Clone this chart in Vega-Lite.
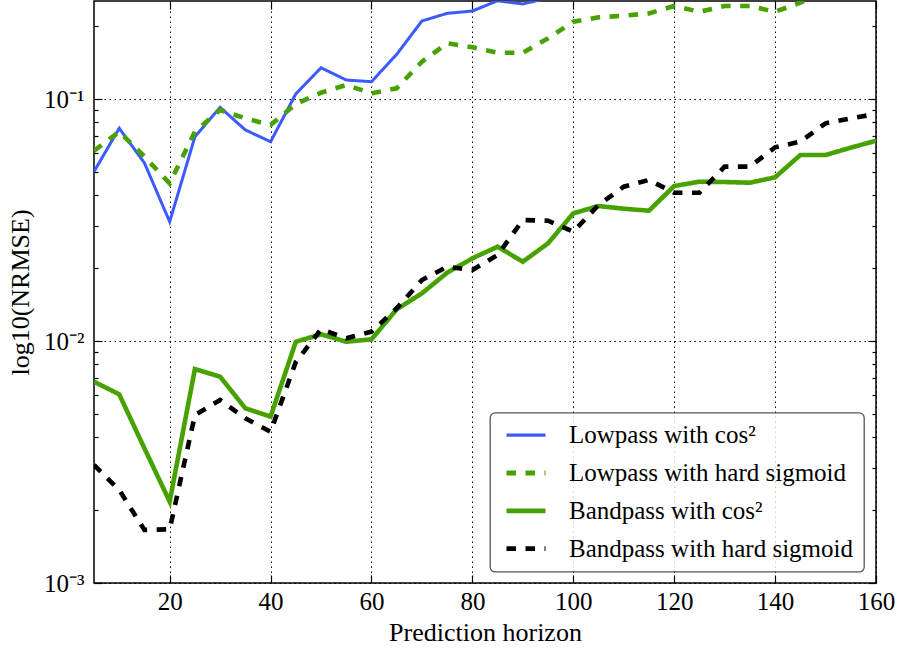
{
  "$schema": "https://vega.github.io/schema/vega-lite/v6.json",
  "width": 782,
  "height": 582,
  "autosize": {"type": "none"},
  "padding": {"left": 94, "top": 1, "right": 22, "bottom": 67},
  "background": "white",
  "datasets": {
    "rows": [
      {"horizon": 5, "series": "Lowpass with cos²", "nrmse": 0.0501},
      {"horizon": 10, "series": "Lowpass with cos²", "nrmse": 0.0757},
      {"horizon": 15, "series": "Lowpass with cos²", "nrmse": 0.0544},
      {"horizon": 20, "series": "Lowpass with cos²", "nrmse": 0.0311},
      {"horizon": 25, "series": "Lowpass with cos²", "nrmse": 0.0698},
      {"horizon": 30, "series": "Lowpass with cos²", "nrmse": 0.0924},
      {"horizon": 35, "series": "Lowpass with cos²", "nrmse": 0.0745},
      {"horizon": 40, "series": "Lowpass with cos²", "nrmse": 0.0666},
      {"horizon": 45, "series": "Lowpass with cos²", "nrmse": 0.105},
      {"horizon": 50, "series": "Lowpass with cos²", "nrmse": 0.1346},
      {"horizon": 55, "series": "Lowpass with cos²", "nrmse": 0.1198},
      {"horizon": 60, "series": "Lowpass with cos²", "nrmse": 0.1179},
      {"horizon": 65, "series": "Lowpass with cos²", "nrmse": 0.153},
      {"horizon": 70, "series": "Lowpass with cos²", "nrmse": 0.2101},
      {"horizon": 75, "series": "Lowpass with cos²", "nrmse": 0.2259},
      {"horizon": 80, "series": "Lowpass with cos²", "nrmse": 0.231},
      {"horizon": 85, "series": "Lowpass with cos²", "nrmse": 0.2547},
      {"horizon": 90, "series": "Lowpass with cos²", "nrmse": 0.2469},
      {"horizon": 95, "series": "Lowpass with cos²", "nrmse": 0.262},
      {"horizon": 100, "series": "Lowpass with cos²", "nrmse": 0.29},
      {"horizon": 5, "series": "Lowpass with hard sigmoid", "nrmse": 0.0611},
      {"horizon": 10, "series": "Lowpass with hard sigmoid", "nrmse": 0.0733},
      {"horizon": 15, "series": "Lowpass with hard sigmoid", "nrmse": 0.0578},
      {"horizon": 20, "series": "Lowpass with hard sigmoid", "nrmse": 0.0448},
      {"horizon": 25, "series": "Lowpass with hard sigmoid", "nrmse": 0.0733},
      {"horizon": 30, "series": "Lowpass with hard sigmoid", "nrmse": 0.0901},
      {"horizon": 35, "series": "Lowpass with hard sigmoid", "nrmse": 0.0832},
      {"horizon": 40, "series": "Lowpass with hard sigmoid", "nrmse": 0.0781},
      {"horizon": 45, "series": "Lowpass with hard sigmoid", "nrmse": 0.0953},
      {"horizon": 50, "series": "Lowpass with hard sigmoid", "nrmse": 0.1062},
      {"horizon": 55, "series": "Lowpass with hard sigmoid", "nrmse": 0.1143},
      {"horizon": 60, "series": "Lowpass with hard sigmoid", "nrmse": 0.1056},
      {"horizon": 65, "series": "Lowpass with hard sigmoid", "nrmse": 0.1107},
      {"horizon": 70, "series": "Lowpass with hard sigmoid", "nrmse": 0.1426},
      {"horizon": 75, "series": "Lowpass with hard sigmoid", "nrmse": 0.1699},
      {"horizon": 80, "series": "Lowpass with hard sigmoid", "nrmse": 0.1635},
      {"horizon": 85, "series": "Lowpass with hard sigmoid", "nrmse": 0.1553},
      {"horizon": 90, "series": "Lowpass with hard sigmoid", "nrmse": 0.1553},
      {"horizon": 95, "series": "Lowpass with hard sigmoid", "nrmse": 0.1781},
      {"horizon": 100, "series": "Lowpass with hard sigmoid", "nrmse": 0.2087},
      {"horizon": 105, "series": "Lowpass with hard sigmoid", "nrmse": 0.2176},
      {"horizon": 110, "series": "Lowpass with hard sigmoid", "nrmse": 0.2209},
      {"horizon": 115, "series": "Lowpass with hard sigmoid", "nrmse": 0.2259},
      {"horizon": 120, "series": "Lowpass with hard sigmoid", "nrmse": 0.2423},
      {"horizon": 125, "series": "Lowpass with hard sigmoid", "nrmse": 0.2294},
      {"horizon": 130, "series": "Lowpass with hard sigmoid", "nrmse": 0.2423},
      {"horizon": 135, "series": "Lowpass with hard sigmoid", "nrmse": 0.2423},
      {"horizon": 140, "series": "Lowpass with hard sigmoid", "nrmse": 0.2294},
      {"horizon": 145, "series": "Lowpass with hard sigmoid", "nrmse": 0.25},
      {"horizon": 150, "series": "Lowpass with hard sigmoid", "nrmse": 0.28},
      {"horizon": 5, "series": "Bandpass with cos²", "nrmse": 0.00679},
      {"horizon": 10, "series": "Bandpass with cos²", "nrmse": 0.00602},
      {"horizon": 15, "series": "Bandpass with cos²", "nrmse": 0.0036},
      {"horizon": 20, "series": "Bandpass with cos²", "nrmse": 0.00217},
      {"horizon": 25, "series": "Bandpass with cos²", "nrmse": 0.00766},
      {"horizon": 30, "series": "Bandpass with cos²", "nrmse": 0.00712},
      {"horizon": 35, "series": "Bandpass with cos²", "nrmse": 0.00527},
      {"horizon": 40, "series": "Bandpass with cos²", "nrmse": 0.00487},
      {"horizon": 45, "series": "Bandpass with cos²", "nrmse": 0.00993},
      {"horizon": 50, "series": "Bandpass with cos²", "nrmse": 0.01066},
      {"horizon": 55, "series": "Bandpass with cos²", "nrmse": 0.00993},
      {"horizon": 60, "series": "Bandpass with cos²", "nrmse": 0.01016},
      {"horizon": 65, "series": "Bandpass with cos²", "nrmse": 0.01352},
      {"horizon": 70, "series": "Bandpass with cos²", "nrmse": 0.01574},
      {"horizon": 75, "series": "Bandpass with cos²", "nrmse": 0.01915},
      {"horizon": 80, "series": "Bandpass with cos²", "nrmse": 0.02196},
      {"horizon": 85, "series": "Bandpass with cos²", "nrmse": 0.02453},
      {"horizon": 90, "series": "Bandpass with cos²", "nrmse": 0.02127},
      {"horizon": 95, "series": "Bandpass with cos²", "nrmse": 0.02533},
      {"horizon": 100, "series": "Bandpass with cos²", "nrmse": 0.0337},
      {"horizon": 105, "series": "Bandpass with cos²", "nrmse": 0.03613},
      {"horizon": 110, "series": "Bandpass with cos²", "nrmse": 0.03521},
      {"horizon": 115, "series": "Bandpass with cos²", "nrmse": 0.03454},
      {"horizon": 120, "series": "Bandpass with cos²", "nrmse": 0.0437},
      {"horizon": 125, "series": "Bandpass with cos²", "nrmse": 0.04553},
      {"horizon": 130, "series": "Bandpass with cos²", "nrmse": 0.04539},
      {"horizon": 135, "series": "Bandpass with cos²", "nrmse": 0.04509},
      {"horizon": 140, "series": "Bandpass with cos²", "nrmse": 0.04747},
      {"horizon": 145, "series": "Bandpass with cos²", "nrmse": 0.0587},
      {"horizon": 150, "series": "Bandpass with cos²", "nrmse": 0.0587},
      {"horizon": 155, "series": "Bandpass with cos²", "nrmse": 0.06293},
      {"horizon": 160, "series": "Bandpass with cos²", "nrmse": 0.06726},
      {"horizon": 5, "series": "Bandpass with hard sigmoid", "nrmse": 0.003074},
      {"horizon": 10, "series": "Bandpass with hard sigmoid", "nrmse": 0.002422},
      {"horizon": 15, "series": "Bandpass with hard sigmoid", "nrmse": 0.001656},
      {"horizon": 20, "series": "Bandpass with hard sigmoid", "nrmse": 0.001667},
      {"horizon": 25, "series": "Bandpass with hard sigmoid", "nrmse": 0.004944},
      {"horizon": 30, "series": "Bandpass with hard sigmoid", "nrmse": 0.005705},
      {"horizon": 35, "series": "Bandpass with hard sigmoid", "nrmse": 0.004792},
      {"horizon": 40, "series": "Bandpass with hard sigmoid", "nrmse": 0.004218},
      {"horizon": 45, "series": "Bandpass with hard sigmoid", "nrmse": 0.00819},
      {"horizon": 50, "series": "Bandpass with hard sigmoid", "nrmse": 0.01118},
      {"horizon": 55, "series": "Bandpass with hard sigmoid", "nrmse": 0.01026},
      {"horizon": 60, "series": "Bandpass with hard sigmoid", "nrmse": 0.01093},
      {"horizon": 65, "series": "Bandpass with hard sigmoid", "nrmse": 0.01365},
      {"horizon": 70, "series": "Bandpass with hard sigmoid", "nrmse": 0.01787},
      {"horizon": 75, "series": "Bandpass with hard sigmoid", "nrmse": 0.02028},
      {"horizon": 80, "series": "Bandpass with hard sigmoid", "nrmse": 0.01965},
      {"horizon": 85, "series": "Bandpass with hard sigmoid", "nrmse": 0.02266},
      {"horizon": 90, "series": "Bandpass with hard sigmoid", "nrmse": 0.03162},
      {"horizon": 95, "series": "Bandpass with hard sigmoid", "nrmse": 0.03141},
      {"horizon": 100, "series": "Bandpass with hard sigmoid", "nrmse": 0.02829},
      {"horizon": 105, "series": "Bandpass with hard sigmoid", "nrmse": 0.03648},
      {"horizon": 110, "series": "Bandpass with hard sigmoid", "nrmse": 0.04341},
      {"horizon": 115, "series": "Bandpass with hard sigmoid", "nrmse": 0.04627},
      {"horizon": 120, "series": "Bandpass with hard sigmoid", "nrmse": 0.041},
      {"horizon": 125, "series": "Bandpass with hard sigmoid", "nrmse": 0.041},
      {"horizon": 130, "series": "Bandpass with hard sigmoid", "nrmse": 0.05253},
      {"horizon": 135, "series": "Bandpass with hard sigmoid", "nrmse": 0.05253},
      {"horizon": 140, "series": "Bandpass with hard sigmoid", "nrmse": 0.06317},
      {"horizon": 145, "series": "Bandpass with hard sigmoid", "nrmse": 0.06664},
      {"horizon": 150, "series": "Bandpass with hard sigmoid", "nrmse": 0.07937},
      {"horizon": 155, "series": "Bandpass with hard sigmoid", "nrmse": 0.08322},
      {"horizon": 160, "series": "Bandpass with hard sigmoid", "nrmse": 0.0867}
    ]
  },
  "data": {"name": "rows"},
  "layer": [
    {
      "mark": {"type": "line", "clip": true},
      "encoding": {
        "x": {
          "field": "horizon", "type": "quantitative",
          "scale": {"domain": [5, 160], "nice": false, "zero": false},
          "axis": {
            "orient": "bottom",
            "values": [20, 40, 60, 80, 100, 120, 140, 160],
            "tickSize": -8,
            "labelPadding": 14,
            "labelFlush": false,
            "labelOverlap": false,
            "domain": false,
            "grid": true,
            "gridDash": [1.5, 3.5],
            "gridColor": "#000",
            "gridWidth": 1,
            "title": "Prediction horizon",
            "titlePadding": 5
          }
        },
        "y": {
          "field": "nrmse", "type": "quantitative",
          "scale": {"type": "log", "domain": [0.001, 0.2541], "nice": false},
          "axis": {
            "orient": "left",
            "values": [0.001, 0.002, 0.003, 0.004, 0.005, 0.006, 0.007, 0.008, 0.009, 0.01, 0.02, 0.03, 0.04, 0.05, 0.06, 0.07, 0.08, 0.09, 0.1, 0.2],
            "labelExpr": "datum.value == 0.1 ? '10⁻¹' : datum.value == 0.01 ? '10⁻²' : datum.value == 0.001 ? '10⁻³' : ''",
            "labelOverlap": false,
            "labelBound": false,
            "labelFlush": false,
            "tickSize": {"condition": {"test": "datum.value == 0.1 || datum.value == 0.01 || datum.value == 0.001", "value": -8}, "value": -4},
            "labelPadding": 18,
            "domain": false,
            "grid": true,
            "gridOpacity": {"condition": {"test": "datum.value == 0.1 || datum.value == 0.01 || datum.value == 0.001", "value": 1}, "value": 0},
            "gridDash": [1.5, 3.5],
            "gridColor": "#000",
            "gridWidth": 1,
            "title": "log10(NRMSE)",
            "titlePadding": 10
          }
        },
        "color": {
          "field": "series", "type": "nominal",
          "scale": {
            "domain": ["Lowpass with cos²", "Lowpass with hard sigmoid", "Bandpass with cos²", "Bandpass with hard sigmoid"],
            "range": ["#3b5bff", "#47a200", "#47a200", "#000000"]
          },
          "legend": {
            "title": null,
            "symbolType": "M-0.5,0H2.75",
            "encode": {"symbols": {"update": {"strokeWidth": {"signal": "datum.value === 'Lowpass with cos²' ? 3.3 : 4.8"}}}}
          }
        },
        "strokeDash": {
          "field": "series", "type": "nominal",
          "scale": {
            "domain": ["Lowpass with cos²", "Lowpass with hard sigmoid", "Bandpass with cos²", "Bandpass with hard sigmoid"],
            "range": [[1, 0], [9.5, 9.5], [1, 0], [9.5, 9.5]]
          },
          "legend": {"title": null, "symbolType": "M-0.5,0H2.75"}
        },
        "strokeWidth": {"condition": {"test": "datum.series === 'Lowpass with cos²'", "value": 3}, "value": 4.6}
      }
    },
    {
      "mark": {"type": "line", "opacity": 0},
      "encoding": {
        "x": {
          "field": "horizon", "type": "quantitative",
          "scale": {"domain": [5, 160], "nice": false, "zero": false},
          "axis": {
            "orient": "top",
            "values": [20, 40, 60, 80, 100, 120, 140, 160],
            "tickSize": -8,
            "labels": false,
            "domain": false,
            "grid": false,
            "title": null
          }
        },
        "y": {
          "field": "nrmse", "type": "quantitative",
          "scale": {"type": "log", "domain": [0.001, 0.2541], "nice": false},
          "axis": {
            "orient": "right",
            "values": [0.001, 0.002, 0.003, 0.004, 0.005, 0.006, 0.007, 0.008, 0.009, 0.01, 0.02, 0.03, 0.04, 0.05, 0.06, 0.07, 0.08, 0.09, 0.1, 0.2],
            "tickSize": {"condition": {"test": "datum.value == 0.1 || datum.value == 0.01 || datum.value == 0.001", "value": -8}, "value": -4},
            "labels": false,
            "domain": false,
            "grid": false,
            "title": null
          }
        },
        "detail": {"field": "series", "type": "nominal"}
      }
    }
  ],
  "resolve": {"axis": {"x": "independent", "y": "independent"}},
  "config": {
    "view": {"stroke": "#000", "strokeWidth": 1.5},
    "axis": {
      "tickColor": "#000",
      "tickWidth": 1.2,
      "labelFont": "Liberation Serif",
      "labelFontSize": 25,
      "labelColor": "#000",
      "titleFont": "Liberation Serif",
      "titleFontSize": 26,
      "titleFontWeight": "normal",
      "titleColor": "#000"
    },
    "legend": {
      "orient": "none",
      "legendX": 396,
      "legendY": 411.7,
      "padding": 10,
      "fillColor": "rgba(255,255,255,0.8)",
      "strokeColor": "#555",
      "strokeWidth": 1.3,
      "cornerRadius": 5,
      "symbolSize": 576,
      "symbolStrokeWidth": 4.6,
      "rowPadding": 11.8,
      "labelOffset": 44,
      "labelFont": "Liberation Serif",
      "labelFontSize": 25,
      "labelColor": "#000",
      "labelLimit": 0
    }
  }
}
